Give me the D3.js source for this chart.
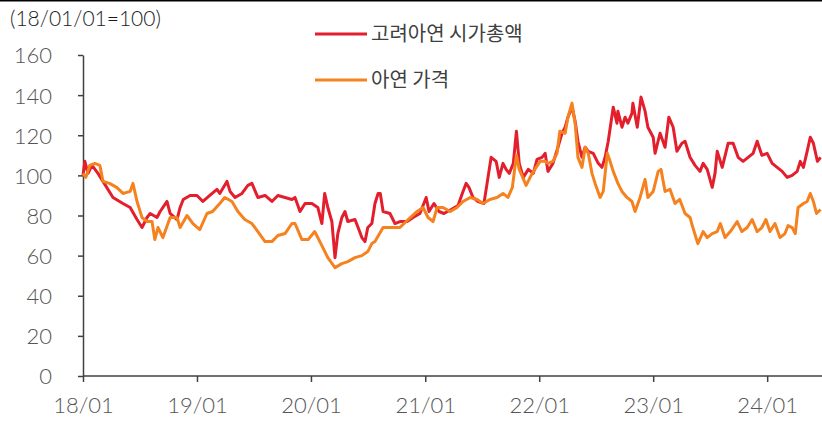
<!DOCTYPE html>
<html>
<head>
<meta charset="utf-8">
<script src="https://cdn.jsdelivr.net/npm/d3@7"></script>
<style>
  body { margin: 0; background: #fff; }
  svg { display: block; }
  .tick text { font-family: Lato, "Noto Sans", sans-serif; font-size: 22px; font-weight: 300; fill: #555; }
  .legend text { font-family: "Noto Sans CJK KR", sans-serif; font-size: 20px; fill: #404040; }
</style>
</head>
<body>
<div id="chart"></div>
<script>

// 고려아연 시가총액 (18/01/01=100)
var kzDates = ["2018-01-01","2018-01-07","2018-01-17","2018-01-30","2018-02-18","2018-03-06","2018-04-07","2018-05-09","2018-06-01","2018-06-23",
  "2018-07-09","2018-07-25","2018-08-04","2018-08-26","2018-09-05","2018-09-27","2018-10-07","2018-10-29","2018-11-08","2018-11-18",
  "2018-12-10","2019-01-01","2019-01-20","2019-02-11","2019-03-06","2019-03-15","2019-04-07","2019-04-17","2019-05-03","2019-05-25",
  "2019-06-13","2019-06-26","2019-07-15","2019-08-07","2019-08-29","2019-09-17","2019-10-10","2019-11-01","2019-11-11","2019-11-27",
  "2019-12-13","2020-01-04","2020-01-23","2020-02-05","2020-02-14","2020-02-24","2020-03-08","2020-03-18","2020-03-27","2020-04-09",
  "2020-04-19","2020-04-28","2020-05-21","2020-05-31","2020-06-12","2020-06-22","2020-07-01","2020-07-14","2020-07-24","2020-08-03",
  "2020-08-10","2020-08-19","2020-09-10","2020-09-26","2020-10-12","2020-11-04","2020-11-23","2020-12-15","2021-01-04","2021-01-13",
  "2021-01-29","2021-02-14","2021-03-02","2021-03-25","2021-04-16","2021-05-02","2021-05-12","2021-05-21","2021-06-03","2021-06-19",
  "2021-07-08","2021-07-21","2021-07-31","2021-08-16","2021-08-26","2021-09-07","2021-09-17","2021-09-27","2021-10-10","2021-10-20",
  "2021-10-29","2021-11-11","2021-11-27","2021-12-13","2021-12-25","2022-01-10","2022-01-20","2022-01-29","2022-02-14","2022-03-02",
  "2022-03-15","2022-03-25","2022-04-03","2022-04-16","2022-04-26","2022-05-05","2022-05-18","2022-05-28","2022-06-07","2022-06-23",
  "2022-07-09","2022-07-21","2022-07-31","2022-08-10","2022-08-26","2022-09-07","2022-09-10","2022-09-23","2022-10-03","2022-10-12",
  "2022-10-25","2022-10-28","2022-11-11","2022-11-23","2022-12-06","2022-12-15","2023-01-01","2023-01-07","2023-01-23","2023-02-08",
  "2023-02-20","2023-03-06","2023-03-18","2023-04-03","2023-04-13","2023-04-29","2023-05-15","2023-05-31","2023-06-10","2023-06-23",
  "2023-07-09","2023-07-18","2023-07-25","2023-08-10","2023-08-29","2023-09-14","2023-09-30","2023-10-16","2023-11-01","2023-11-17",
  "2023-11-30","2023-12-15","2024-01-01","2024-01-17","2024-02-02","2024-02-18","2024-03-05","2024-03-21","2024-04-06","2024-04-16",
  "2024-04-26","2024-05-08","2024-05-18","2024-05-28","2024-06-10","2024-06-20"];
var kzValues = [100,107,101,105,101,97,89,86,84,78,
  74,79,81,79,82,87,81,78,84,88,
  90,90,87,90,93,91,97,92,89,91,
  95,96,89,90,87,90,89,88,89,82,
  86,86,84,76,91,84,77,59,71,79,
  82,77,78,74,69,67,74,76,86,91,
  91,82,81,76,77,77,79,81,89,82,
  86,82,81,83,85,92,96,94,89,87,
  86,99,109,107,99,106,103,101,106,122,
  106,99,103,101,108,109,111,102,106,114,
  121,124,129,134,127,117,109,114,112,111,
  106,104,109,117,134,126,132,124,129,126,
  131,136,124,139,132,124,119,111,121,114,
  129,124,112,116,117,109,105,102,106,103,
  94,101,112,104,116,116,109,107,109,111,
  117,110,111,106,104,102,99,100,102,107,
  104,112,119,116,107,109];

// 아연 가격 (18/01/01=100)
var znDates = ["2018-01-01","2018-01-10","2018-01-23","2018-02-08","2018-02-24","2018-03-06","2018-03-27","2018-04-19","2018-05-09","2018-06-01",
  "2018-06-10","2018-06-23","2018-07-09","2018-07-25","2018-08-10","2018-08-19","2018-08-29","2018-09-14","2018-10-07","2018-10-29",
  "2018-11-08","2018-11-30","2018-12-19","2019-01-10","2019-02-02","2019-02-20","2019-03-15","2019-03-31","2019-04-23","2019-05-12",
  "2019-06-03","2019-06-26","2019-07-15","2019-08-07","2019-08-29","2019-09-17","2019-10-10","2019-11-01","2019-11-11","2019-12-03",
  "2019-12-23","2020-01-13","2020-02-05","2020-02-24","2020-03-18","2020-04-09","2020-04-28","2020-05-21","2020-06-12","2020-07-01",
  "2020-07-14","2020-07-24","2020-08-19","2020-10-12","2020-11-14","2020-12-06","2020-12-25","2021-01-10","2021-01-26","2021-02-08",
  "2021-02-27","2021-03-22","2021-04-13","2021-05-02","2021-05-25","2021-06-16","2021-07-05","2021-07-27","2021-08-19","2021-09-07",
  "2021-09-23","2021-10-07","2021-10-20","2021-10-29","2021-11-20","2021-12-06","2021-12-22","2022-01-04","2022-01-20","2022-01-29",
  "2022-02-14","2022-02-27","2022-03-08","2022-03-25","2022-04-03","2022-04-16","2022-04-26","2022-05-05","2022-05-18","2022-05-28",
  "2022-06-07","2022-06-19","2022-06-29","2022-07-15","2022-07-25","2022-08-07","2022-08-16","2022-08-26","2022-09-10","2022-09-23",
  "2022-10-09","2022-10-25","2022-11-04","2022-11-20","2022-12-06","2022-12-15","2023-01-01","2023-01-17","2023-01-26","2023-02-08",
  "2023-02-24","2023-03-12","2023-03-27","2023-04-13","2023-04-29","2023-05-08","2023-05-24","2023-06-10","2023-06-23","2023-07-09",
  "2023-07-25","2023-08-04","2023-08-19","2023-09-05","2023-09-27","2023-10-12","2023-10-29","2023-11-14","2023-11-30","2023-12-15",
  "2023-12-28","2024-01-10","2024-01-26","2024-02-11","2024-02-27","2024-03-08","2024-03-21","2024-03-31","2024-04-09","2024-04-26",
  "2024-05-08","2024-05-18","2024-05-28","2024-06-07","2024-06-20"];
var znValues = [101,99,105,106,105,97,96,94,91,92,
  96,87,79,77,77,68,74,69,79,79,
  74,80,76,73,81,82,86,89,87,82,
  78,76,72,67,67,70,71,76,76,68,
  68,72,65,59,54,56,57,59,60,62,
  66,67,74,74,79,82,84,79,77,84,
  84,82,84,87,89,88,86,88,89,91,
  89,94,110,103,95,100,104,107,107,106,
  107,111,122,121,129,136,126,109,104,114,
  111,101,96,89,92,111,107,102,96,92,
  89,87,82,89,98,89,92,102,103,92,
  93,86,88,81,79,74,66,72,69,71,
  72,76,69,72,77,72,74,78,72,74,
  78,72,76,69,71,75,74,71,84,86,
  87,91,87,81,83];

var yTicks = [0, 20, 40, 60, 80, 100, 120, 140, 160];
var xTicks = ["2018-01-01","2019-01-01","2020-01-01","2021-01-01","2022-01-01","2023-01-01","2024-01-01"];
var seriesNames = ["고려아연 시가총액", "아연 가격"];
var seriesColors = ["#e31e2d", "#f5821f"];

var width = 822, height = 421;
var parse = d3.timeParse("%Y-%m-%d");

var svg = d3.select("#chart").append("svg")
    .attr("width", width)
    .attr("height", height);

// frame line on top
svg.append("line")
    .attr("x1", 0).attr("x2", width)
    .attr("y1", 0.75).attr("y2", 0.75)
    .attr("stroke", "#000").attr("stroke-width", 1.5);

var x = d3.scaleTime()
    .domain([parse("2018-01-01"), parse("2024-07-01")])
    .range([83, 83 + 114 * 6.5]);

var y = d3.scaleLinear()
    .domain([0, 160])
    .range([376, 55]);

// y axis
var yAxis = svg.append("g")
    .attr("transform", "translate(83,0)")
    .call(d3.axisLeft(y).tickValues(yTicks).tickSize(5).tickPadding(26).tickSizeOuter(0));

// x axis
var xAxis = svg.append("g")
    .attr("transform", "translate(0,376)")
    .call(d3.axisBottom(x).tickValues(xTicks.map(parse)).tickFormat(d3.timeFormat("%y/%m")).tickSize(6).tickPadding(15).tickSizeOuter(0));

xAxis.select(".domain").attr("d", "M83,0H" + width);

[yAxis, xAxis].forEach(function(g) {
    g.select(".domain").attr("stroke", "#404040").attr("stroke-width", 1.5);
    g.selectAll(".tick line").attr("stroke", "#404040").attr("stroke-width", 1.5);
});
yAxis.selectAll(".tick text").attr("dy", "0.36em");

svg.append("text")
    .attr("x", 10).attr("y", 26)
    .style("font-family", "Lato, 'Noto Sans', sans-serif")
    .style("font-size", "21px")
    .style("font-weight", "300")
    .attr("fill", "#1a1a1a")
    .text("(18/01/01=100)");

var line = d3.line()
    .x(function(d) { return x(d.date); })
    .y(function(d) { return y(d.value); });

function toPoints(dates, values) {
    return dates.map(function(d, i) { return { date: parse(d), value: values[i] }; });
}

var series = [toPoints(kzDates, kzValues), toPoints(znDates, znValues)];

series.forEach(function(s, i) {
    svg.append("path")
        .datum(s)
        .attr("fill", "none")
        .attr("stroke", seriesColors[i])
        .attr("stroke-width", 3)
        .attr("stroke-linejoin", "round")
        .attr("d", line);
});

// legend
var legend = svg.append("g").attr("class", "legend");
seriesNames.forEach(function(name, i) {
    var ly = 34 + i * 46;
    legend.append("line")
        .attr("x1", 315).attr("x2", 367)
        .attr("y1", ly).attr("y2", ly)
        .attr("stroke", seriesColors[i]).attr("stroke-width", 3);
    legend.append("text")
        .attr("x", 371).attr("y", ly)
        .attr("dy", "0.35em")
        .text(name);
});

</script>
</body>
</html>
